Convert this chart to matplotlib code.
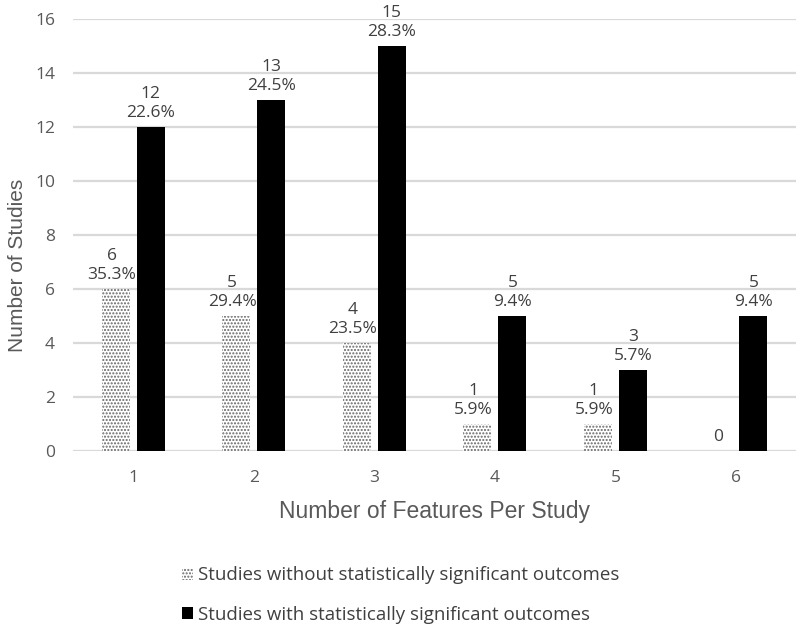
import matplotlib
matplotlib.use("Agg")
import matplotlib.pyplot as plt
from matplotlib.patches import Patch
import numpy as np

# data
features = ["1", "2", "3", "4", "5", "6"]
without_sig = [6, 5, 4, 1, 1, 0]
without_pct = ["35.3%", "29.4%", "23.5%", "5.9%", "5.9%", ""]
with_sig = [12, 13, 15, 5, 3, 5]
with_pct = ["22.6%", "24.5%", "28.3%", "9.4%", "5.7%", "9.4%"]

plt.rcParams["font.family"] = ["Open Sans", "DejaVu Sans"]
plt.rcParams["hatch.linewidth"] = 1.0

fig = plt.figure(figsize=(8, 6.28), dpi=100)
ax = fig.add_axes([0.0913, 0.2818, 0.904, 0.688])

x = np.arange(len(features))
w = 0.232
off = 0.145
hatch_col = "#666666"
ax.bar(x - off, without_sig, w, color="white", edgecolor=hatch_col,
       hatch=".....", linewidth=0, zorder=3)
ax.bar(x + off, with_sig, w, color="black", linewidth=0, zorder=3)

# count + share labels above each bar
lab_col = "#404040"
for xi, v, p in zip(x - off, without_sig, without_pct):
    txt = f"{v}\n{p}" if p else f"{v}"
    ax.annotate(txt, (xi, v), xytext=(-3 if p else 0, 4), textcoords="offset points",
                ha="center", va="bottom", fontsize=12.5, color=lab_col,
                linespacing=1.3)
for xi, v, p in zip(x + off, with_sig, with_pct):
    ax.annotate(f"{v}\n{p}", (xi, v), xytext=(0, 4), textcoords="offset points",
                ha="center", va="bottom", fontsize=12.5, color=lab_col,
                linespacing=1.3)

ax.set_xlim(-0.5, len(features) - 0.5)
ax.set_ylim(0, 16)
ax.set_yticks(range(0, 17, 2))
ax.set_xticks(x, features)
ax.yaxis.grid(True, color="#d9d9d9", linewidth=1.6, zorder=0)
ax.set_axisbelow(True)
for s in ax.spines.values():
    s.set_visible(False)
ax.tick_params(length=0, labelsize=12.5, labelcolor="#595959")
ax.tick_params(axis="y", pad=13)
ax.tick_params(axis="x", pad=14)
ax.set_xlabel("Number of Features Per Study", fontsize=16.5, color="#595959",
              family="Liberation Sans")
ax.xaxis.set_label_coords(0.5, -0.141)
ax.xaxis.label.set_va("center")
ax.set_ylabel("Number of Studies", fontsize=15, color="#595959",
              family="Liberation Sans")
ax.yaxis.set_label_coords(-0.077, 0.43)
ax.yaxis.label.set_va("center")

handles = [Patch(facecolor="white", edgecolor=hatch_col, hatch=".....", linewidth=0),
           Patch(facecolor="black", linewidth=0)]
fig.legend(handles, ["Studies without statistically significant outcomes",
                     "Studies with statistically significant outcomes"],
           loc="upper left", bbox_to_anchor=(0.2275, 0.098), frameon=False,
           fontsize=13.5, labelcolor="#404040", handlelength=0.6, handleheight=0.6,
           handletextpad=0.25, labelspacing=1.15, borderaxespad=0, borderpad=0)

fig.savefig("out.png", dpi=100)
